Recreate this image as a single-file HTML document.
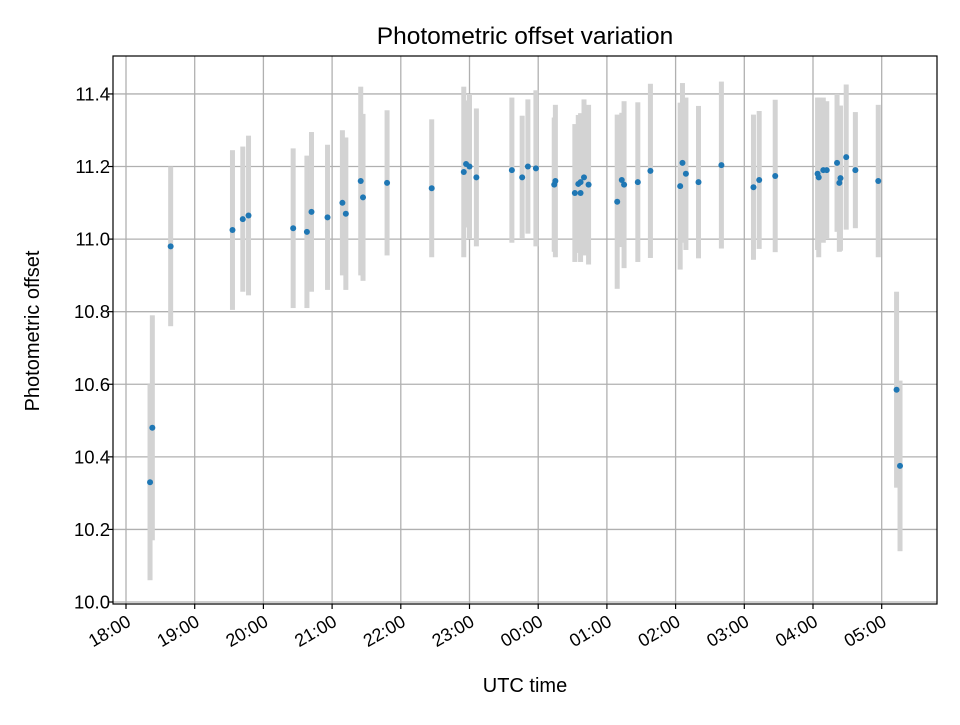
<!DOCTYPE html>
<html><head><meta charset="utf-8"><style>
body{margin:0;background:#fff;}
svg text{font-family:"Liberation Sans","DejaVu Sans",sans-serif;fill:#000;}
</style></head><body>
<svg id="chart" width="960" height="720" xmlns="http://www.w3.org/2000/svg">
<rect width="960" height="720" fill="#fff"/>
<g id="grid"></g><g id="bars"></g><g id="dots"></g><g id="axes"></g>
</svg>
<script>
// minutes after 18:00 UTC
const minutes=[21,23,39,93,102,107,146,158,162,176,189,192,205,207,228,267,295,297,300,306,337,346,351,358,374,375,392,395,397,397,400,404,429,433,435,447,458,484,486,489,500,520,548,553,567,604,605,609,612,621,623,624,629,637,657,673,676];
const offsets=[10.33,10.48,10.98,11.025,11.055,11.065,11.03,11.02,11.075,11.06,11.1,11.07,11.16,11.115,11.155,11.14,11.185,11.207,11.2,11.17,11.19,11.17,11.2,11.195,11.15,11.16,11.127,11.152,11.157,11.127,11.17,11.15,11.103,11.163,11.15,11.157,11.188,11.146,11.21,11.18,11.157,11.204,11.143,11.163,11.174,11.18,11.17,11.19,11.19,11.21,11.155,11.168,11.226,11.19,11.16,10.585,10.375];
const errors=[0.27,0.31,0.22,0.22,0.2,0.22,0.22,0.21,0.22,0.2,0.2,0.21,0.26,0.23,0.2,0.19,0.235,0.175,0.2,0.19,0.2,0.17,0.185,0.215,0.185,0.21,0.19,0.19,0.19,0.19,0.215,0.22,0.24,0.185,0.23,0.22,0.24,0.23,0.22,0.21,0.21,0.23,0.2,0.19,0.21,0.21,0.22,0.2,0.19,0.19,0.19,0.2,0.2,0.16,0.21,0.27,0.235];
const xTickLabels=["18:00","19:00","20:00","21:00","22:00","23:00","00:00","01:00","02:00","03:00","04:00","05:00"];
const yTicks=[10.0,10.2,10.4,10.6,10.8,11.0,11.2,11.4];
const L=113,R=937,T=56,B=604;
const X=m=>126+m*68.7/60;
const Y=v=>602-(v-10)*362.9;
const NS="http://www.w3.org/2000/svg";
function mk(p,tag,a,txt){const e=document.createElementNS(NS,tag);for(const k in a)e.setAttribute(k,a[k]);if(txt!==undefined)e.textContent=txt;p.appendChild(e);return e;}
const grid=document.getElementById('grid'),bars=document.getElementById('bars'),dots=document.getElementById('dots'),axes=document.getElementById('axes');
xTickLabels.forEach((t,i)=>{const x=X(i*60);
 const g=mk(grid,'line',{x1:x,x2:x,y1:T,y2:B,stroke:'#b0b0b0','stroke-width':1.3});
 
 const tk=mk(axes,'line',{x1:x,x2:x,y1:B,y2:B+5,stroke:'#000','stroke-width':1.2});
 
 const ax=x+6,ay=B+21;
 const lb=mk(axes,'text',{x:ax,y:ay,'font-size':18,'text-anchor':'end',transform:`rotate(-30 ${ax} ${ay})`},t);
 
});
yTicks.forEach(v=>{const y=Y(v);
 const g=mk(grid,'line',{x1:L,x2:R,y1:y,y2:y,stroke:'#b0b0b0','stroke-width':1.3});
 
 const tk=mk(axes,'line',{x1:L-5,x2:L,y1:y,y2:y,stroke:'#000','stroke-width':1.2});
 
 const lb=mk(axes,'text',{x:L-3,y:y+6.5,'font-size':18.5,'text-anchor':'end'},v.toFixed(1));
 
});
minutes.forEach((m,i)=>{const x=X(m);
 const b=mk(bars,'rect',{x:x-2.5,width:5,y:Y(offsets[i]+errors[i]),height:Y(offsets[i]-errors[i])-Y(offsets[i]+errors[i]),fill:'#d3d3d3'});
 
 const d=mk(dots,'circle',{cx:x,cy:Y(offsets[i]),r:3,fill:'#1f77b4'});
 
});
const fr=mk(axes,'rect',{x:L,y:T,width:R-L,height:B-T,fill:'none',stroke:'#000','stroke-width':1.2});

const ti=mk(axes,'text',{x:525,y:44,'font-size':24.5,'text-anchor':'middle'},'Photometric offset variation');

const xl=mk(axes,'text',{x:525,y:692,'font-size':20,'text-anchor':'middle'},'UTC time');

const yl=mk(axes,'text',{x:39,y:331,'font-size':20,'text-anchor':'middle',transform:'rotate(-90 39 331)'},'Photometric offset');

</script>
</body></html>
